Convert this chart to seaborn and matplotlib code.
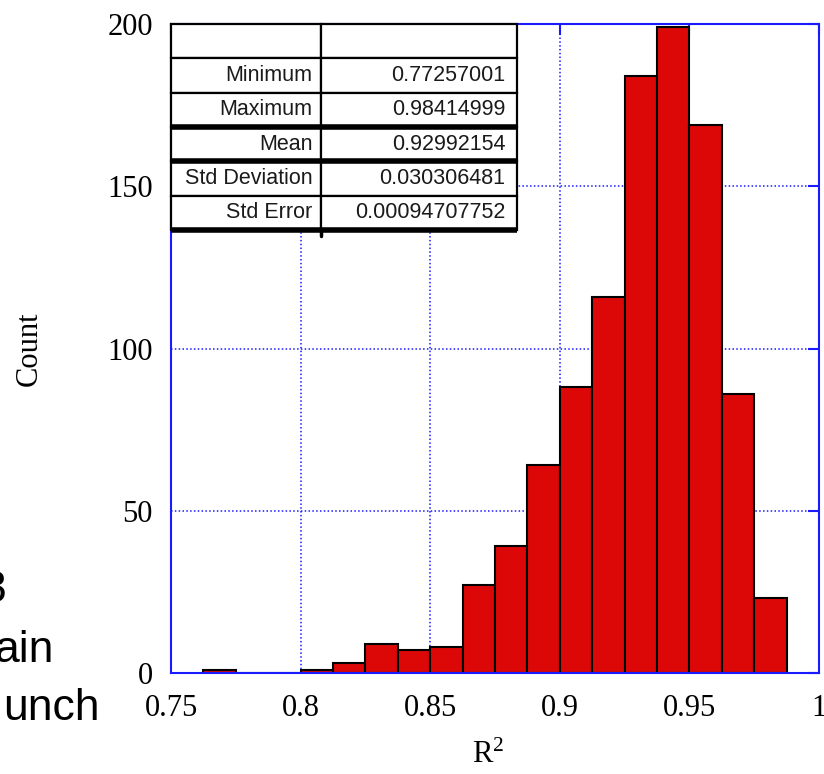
import numpy as np
import pandas as pd
import matplotlib
matplotlib.use("Agg")
import matplotlib.pyplot as plt
import seaborn as sns

# ---- data ----
bin_centers = [0.76875, 0.80625, 0.81875, 0.83125, 0.84375, 0.85625, 0.86875,
               0.88125, 0.89375, 0.90625, 0.91875, 0.93125, 0.94375, 0.95625,
               0.96875, 0.98125]
counts = [1, 1, 3, 9, 7, 8, 27, 39, 64, 88, 116, 184, 199, 169, 86, 23]
x_ticks = [0.75, 0.8, 0.85, 0.9, 0.95, 1]
x_tick_labels = ["0.75", "0.8", "0.85", "0.9", "0.95", "1"]
y_ticks = [0, 50, 100, 150, 200]
stat_names = ["Minimum", "Maximum", "Mean", "Std Deviation", "Std Error"]
stat_values = ["0.77257001", "0.98414999", "0.92992154", "0.030306481", "0.00094707752"]
side_text = ["3", "ain", "unch"]

df = pd.DataFrame({"r2": bin_centers, "count": counts})

sns.set_style("white")
plt.rcParams["font.family"] = ["Liberation Serif", "DejaVu Serif"]
plt.rcParams["text.color"] = "black"
plt.rcParams["mathtext.fontset"] = "custom"
plt.rcParams["mathtext.rm"] = "Liberation Serif"

BLUE = "#1a1aff"
fig = plt.figure(figsize=(8.24, 7.74), dpi=100)
ax = fig.add_axes([171/824, 1 - 673/774, 648/824, 649/774])

sns.histplot(data=df, x="r2", weights="count", binwidth=0.0125,
             binrange=(0.7625, 0.9875), color="#DC0808", alpha=1,
             edgecolor="black", linewidth=1.5, ax=ax, zorder=2)

ax.set_xlim(0.75, 1.0)
ax.set_ylim(0, 200)
ax.set_xticks(x_ticks)
ax.set_xticklabels(x_tick_labels)
ax.set_yticks(y_ticks)
ax.set_axisbelow(True)
ax.grid(True, color=BLUE, linestyle=(0, (1, 1.5)), linewidth=1.1, zorder=0)
for s in ax.spines.values():
    s.set_color(BLUE)
    s.set_linewidth(1.5)
    s.set_visible(True)
ax.tick_params(axis="both", direction="in", length=8, width=1.5, color=BLUE,
               labelsize=22, top=True, right=True, labelcolor="black")
ax.tick_params(axis="x", pad=15)
ax.tick_params(axis="y", pad=13)

ax.set_xlabel("$\\mathregular{R^2}$", fontsize=22, color="black")
ax.set_ylabel("Count", fontsize=22, color="black")
ax.xaxis.set_label_coords(0.49, -0.104)
ax.yaxis.set_label_coords(-0.196, 0.5)

# ---- statistics table ----
cell_text = [["", ""]] + [[n, v] for n, v in zip(stat_names, stat_values)]
tbl_left, tbl_right = 0.0, (517 - 171) / 648
tbl_bottom = (673 - 230) / 649
tbl = ax.table(cellText=cell_text, cellLoc="right",
               colWidths=[150/648, 197/648],
               bbox=[tbl_left, tbl_bottom, tbl_right - tbl_left, 1 - tbl_bottom],
               zorder=5)
tbl.auto_set_font_size(False)
for (r, c), cell in tbl.get_celld().items():
    cell.set_facecolor("white")
    cell.set_edgecolor("black")
    cell.set_linewidth(1.6)
    cell.PAD = 0.055 if c == 0 else 0.06
    cell.get_text().set_fontsize(15.5)
    cell.get_text().set_family(["Liberation Sans", "DejaVu Sans"])
    cell.get_text().set_color("#1a1a1a")

row_h = (1 - tbl_bottom) / 6
for k in [3, 4, 6]:
    yy = 1 - k * row_h
    ax.plot([tbl_left, tbl_right], [yy, yy], color="black", linewidth=4,
            transform=ax.transAxes, clip_on=False, zorder=6,
            solid_capstyle="butt")
# small stub of the column divider below the table
xd = 150 / 648
ax.plot([xd, xd], [tbl_bottom, tbl_bottom - 0.01], color="black", linewidth=2.5,
        transform=ax.transAxes, clip_on=False, zorder=6)

# ---- clipped side text from neighbouring slide content ----
for txt, xr, yb in zip(side_text, [6, 53, 100], [602, 662, 720]):
    fig.text(xr/824, 1 - yb/774, txt, ha="right", va="baseline", color="black",
             fontsize=32, family=["Liberation Sans", "DejaVu Sans"])

fig.savefig("out.png", dpi=100)
